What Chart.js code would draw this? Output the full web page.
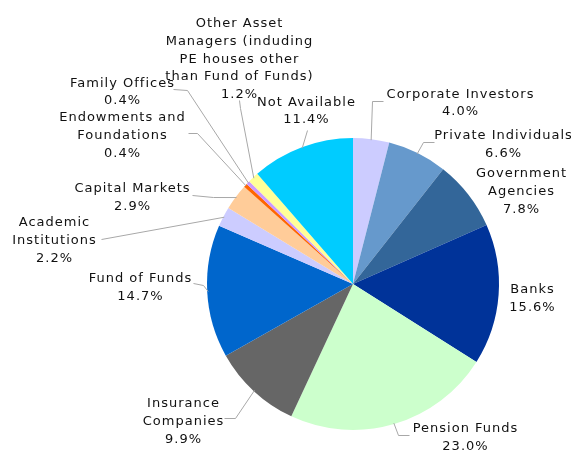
<!DOCTYPE html>
<html>
<head>
<meta charset="utf-8">
<script src="https://cdn.jsdelivr.net/npm/chart.js@4/dist/chart.umd.min.js"></script>
<style>
  html, body { margin: 0; padding: 0; background: #fff; }
  #wrap { width: 571px; height: 451px; position: relative; }
</style>
</head>
<body>
<div id="wrap"><canvas id="pie" width="571" height="451"></canvas></div>
<script>
// ─── Data ────────────────────────────────────────────────────────────

const categories = [
  'Corporate Investors', 'Private Individuals', 'Government Agencies', 'Banks',
  'Pension Funds', 'Insurance Companies', 'Fund of Funds', 'Academic Institutions',
  'Capital Markets', 'Endowments and Foundations', 'Family Offices',
  'Other Asset Managers (induding PE houses other than Fund of Funds)', 'Not Available'
];
const shares = [4.0, 6.6, 7.8, 15.6, 23.0, 9.9, 14.7, 2.2, 2.9, 0.4, 0.4, 1.2, 11.4];

// wrapped label text, as shown in the chart
const labelLines = [
  ['Corporate Investors'],
  ['Private Individuals'],
  ['Government', 'Agencies'],
  ['Banks'],
  ['Pension Funds'],
  ['Insurance', 'Companies'],
  ['Fund of Funds'],
  ['Academic', 'Institutions'],
  ['Capital Markets'],
  ['Endowments and', 'Foundations'],
  ['Family Offices'],
  ['Other Asset', 'Managers (induding', 'PE houses other', 'than Fund of Funds)'],
  ['Not Available'],
];

const colors = [
  '#ccccff', '#6699cc', '#336699', '#003399', '#ccffcc', '#666666', '#0066cc',
  '#ccccff', '#ffcc99', '#ff6600', '#cc99ff', '#ffff99', '#00ccff'
];

// ─── Label layout (text centre x, first line y, leader line path) ────

const LINE_H = 17.6;
const labelLayout = [
  { x: 460, y: 94.5, path: [[372, 101], [383, 101]] },
  { x: 503, y: 136,  path: [[423, 142], [434, 142]] },
  { x: 521, y: 174,  path: null },
  { x: 532, y: 290,  path: null },
  { x: 465, y: 429,  path: [[398, 435], [409, 435]] },
  { x: 183, y: 404,  path: [[235, 418], [224, 418]] },
  { x: 140, y: 279,  path: [[203, 285], [193, 283]] },
  { x: 54,  y: 223,  path: [[101, 239]] },
  { x: 132, y: 189,  path: [[213, 197], [192, 195]] },
  { x: 122, y: 118,  path: [[197, 133], [188, 133]] },
  { x: 122, y: 83.5, path: [[187, 90], [173, 89]] },
  { x: 239, y: 24,   path: [[240, 108], [239, 100]] },
  { x: 306, y: 102.5, path: [[307, 130]] },
];

// ─── Plugin: outside labels with leader lines ────────────────────────

const outsideLabels = {
  id: 'outsideLabels',
  afterDraw(chart) {
    const ctx = chart.ctx;
    const meta = chart.getDatasetMeta(0);
    ctx.save();
    meta.data.forEach((arc, i) => {
      const p = arc.getProps(['x', 'y', 'startAngle', 'endAngle', 'outerRadius'], true);
      const mid = (p.startAngle + p.endAngle) / 2;
      const lay = labelLayout[i];
      if (lay.path) {
        ctx.strokeStyle = '#a8a8a8';
        ctx.lineWidth = 1;
        ctx.beginPath();
        ctx.moveTo(p.x + Math.cos(mid) * (p.outerRadius - 1), p.y + Math.sin(mid) * (p.outerRadius - 1));
        lay.path.forEach(pt => ctx.lineTo(pt[0] + 0.5, pt[1] + 0.5));
        ctx.stroke();
      }
      const lines = labelLines[i].concat([shares[i].toFixed(1) + '%']);
      ctx.fillStyle = '#111';
      ctx.font = '13px "DejaVu Sans", Verdana, sans-serif';
      ctx.letterSpacing = '1px';
      ctx.textAlign = 'center';
      ctx.textBaseline = 'middle';
      lines.forEach((t, k) => ctx.fillText(t, lay.x + 0.5, lay.y + k * LINE_H));
    });
    ctx.restore();
  }
};

// ─── Chart ───────────────────────────────────────────────────────────

new Chart(document.getElementById('pie').getContext('2d'), {
  type: 'pie',
  data: {
    labels: categories,
    datasets: [{
      data: shares,
      backgroundColor: colors,
      borderWidth: 0,
      hoverOffset: 0,
    }]
  },
  options: {
    responsive: false,
    animation: false,
    layout: { padding: { top: 138, bottom: 21, left: 207, right: 72 } },
    plugins: {
      legend: { display: false },
      tooltip: { enabled: false },
    },
  },
  plugins: [outsideLabels],
});
</script>
</body>
</html>
